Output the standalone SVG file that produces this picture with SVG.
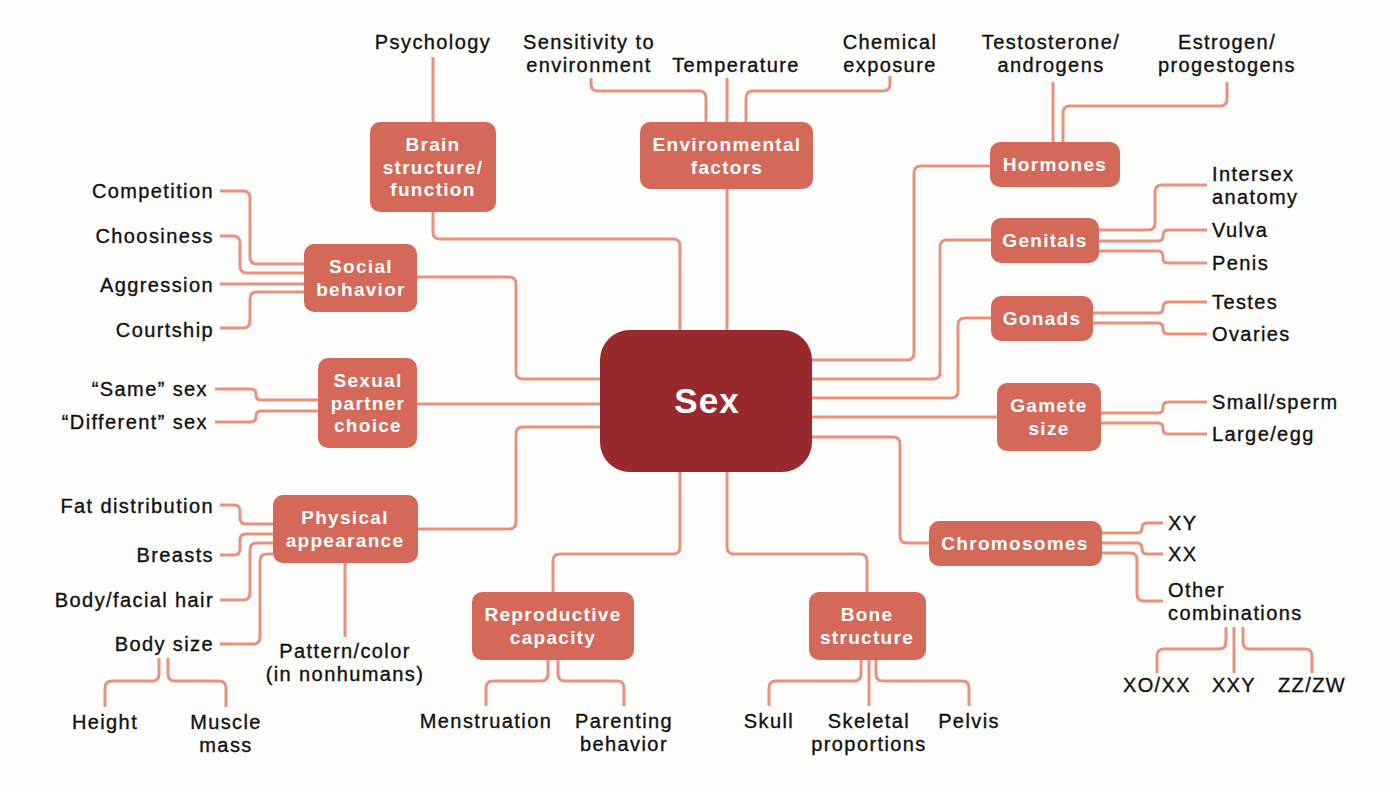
<svg xmlns="http://www.w3.org/2000/svg" width="1396" height="786" viewBox="0 0 1396 786">
<style>
.bg{fill:#fdfdfb}
.node{fill:#d4695a}
.core{fill:#982a2e}
.c path{fill:none;stroke:#e8917f;stroke-width:3;stroke-linecap:butt;stroke-linejoin:round}
.nt{font-family:"Liberation Sans",Arial,sans-serif;font-weight:bold;font-size:19px;letter-spacing:1.3px;fill:#ffffff;text-anchor:middle}
.lt{font-family:"Liberation Sans",Arial,sans-serif;font-size:20px;letter-spacing:1.4px;fill:#111111;stroke:#111111;stroke-width:0.35px}
.m{text-anchor:middle}
.e{text-anchor:end}
.s{text-anchor:start}
</style>
<rect class="bg" x="0" y="0" width="1396" height="786"/>
<g class="c" id="connectors">
<path d="M433,57 V122"/>
<path d="M591,78 V84 Q591,91 598,91 H699 Q706,91 706,98 V122"/>
<path d="M727,78 V122"/>
<path d="M890,76 V84 Q890,91 883,91 H753 Q746,91 746,98 V122"/>
<path d="M1053,82 V142"/>
<path d="M1227,82 V99 Q1227,106 1220,106 H1070 Q1063,106 1063,113 V142"/>
<path d="M433,212 V232 Q433,239 440,239 H673 Q680,239 680,246 V330"/>
<path d="M727,189 V330"/>
<path d="M990,166 H921 Q914,166 914,173 V353 Q914,360 907,360 H812"/>
<path d="M991,240 H947 Q940,240 940,247 V372 Q940,379 933,379 H812"/>
<path d="M991,318 H965 Q958,318 958,325 V391 Q958,398 951,398 H812"/>
<path d="M812,417 H997"/>
<path d="M812,437 H893 Q900,437 900,444 V536 Q900,543 907,543 H929"/>
<path d="M727,472 V547 Q727,554 734,554 H860 Q867,554 867,561 V592"/>
<path d="M680,472 V547 Q680,554 673,554 H560 Q553,554 553,561 V592"/>
<path d="M418,529 H509 Q516,529 516,522 V434 Q516,427 523,427 H600"/>
<path d="M417,404 H600"/>
<path d="M417,277 H509 Q516,277 516,284 V372 Q516,379 523,379 H600"/>
<path d="M220,191 H243 Q250,191 250,198 V257 Q250,264 257,264 H304"/>
<path d="M220,236 H233 Q240,236 240,243 V266 Q240,273 247,273 H304"/>
<path d="M220,284 H304"/>
<path d="M220,328 H243 Q250,328 250,321 V299 Q250,292 257,292 H304"/>
<path d="M215,389 H251 Q256,389 256,394.5 Q256,400 261,400 H318"/>
<path d="M215,422 H251 Q256,422 256,416.5 Q256,411 261,411 H318"/>
<path d="M220,505 H234 Q240,505 240,511 V518 Q240,524 246,524 H273"/>
<path d="M220,555 H234 Q240,555 240,549 V540 Q240,534 246,534 H273"/>
<path d="M220,600 H243 Q250,600 250,593 V550 Q250,543 257,543 H273"/>
<path d="M220,644 H253 Q260,644 260,637 V561 Q260,554 267,554 H273"/>
<path d="M345,563 V637"/>
<path d="M159,658 V674 Q159,681 152,681 H112 Q105,681 105,688 V707"/>
<path d="M168,658 V674 Q168,681 175,681 H219 Q226,681 226,688 V707"/>
<path d="M548,660 V674 Q548,681 541,681 H493 Q486,681 486,688 V706"/>
<path d="M558,660 V674 Q558,681 565,681 H617 Q624,681 624,688 V706"/>
<path d="M861,660 V674 Q861,681 854,681 H776 Q769,681 769,688 V706"/>
<path d="M869,660 V706"/>
<path d="M876,660 V674 Q876,681 883,681 H962 Q969,681 969,688 V706"/>
<path d="M1099,230 H1148 Q1155,230 1155,223 V192 Q1155,185 1162,185 H1207"/>
<path d="M1099,241 H1158 Q1163,241 1163,236 V235 Q1163,230 1168,230 H1207"/>
<path d="M1099,251 H1158 Q1163,251 1163,256 V258 Q1163,263 1168,263 H1207"/>
<path d="M1093,313 H1158 Q1163,313 1163,308 V307 Q1163,302 1168,302 H1207"/>
<path d="M1093,323 H1158 Q1163,323 1163,328 V329 Q1163,334 1168,334 H1207"/>
<path d="M1101,413 H1158 Q1163,413 1163,408 V407 Q1163,402 1168,402 H1207"/>
<path d="M1101,423 H1158 Q1163,423 1163,428 V429 Q1163,434 1168,434 H1207"/>
<path d="M1102,533 H1137 Q1142,533 1142,528 Q1142,523 1147,523 H1163"/>
<path d="M1102,543 H1137 Q1142,543 1142,548 V549 Q1142,554 1147,554 H1163"/>
<path d="M1102,553 H1130 Q1137,553 1137,560 V594 Q1137,601 1144,601 H1163"/>
<path d="M1226,627 V642 Q1226,649 1219,649 H1164 Q1157,649 1157,656 V673"/>
<path d="M1234,627 V673"/>
<path d="M1243,627 V642 Q1243,649 1250,649 H1305 Q1312,649 1312,656 V673"/>
</g>
<g id="sex"><rect class="core" x="600" y="330" width="212" height="142" rx="30"/><text x="707" y="413" font-family="Liberation Sans,Arial,sans-serif" font-weight="bold" font-size="35" letter-spacing="1" fill="#fff" text-anchor="middle">Sex</text></g>
<g id="brain"><rect class="node" x="370" y="122" width="126" height="90" rx="10"/><text class="nt" x="433" y="151">Brain</text><text class="nt" x="433" y="174">structure/</text><text class="nt" x="433" y="196">function</text></g>
<g id="env"><rect class="node" x="640" y="122" width="173" height="67" rx="10"/><text class="nt" x="727" y="151">Environmental</text><text class="nt" x="727" y="174">factors</text></g>
<g id="hormones"><rect class="node" x="990" y="142" width="130" height="45" rx="10"/><text class="nt" x="1055" y="171">Hormones</text></g>
<g id="genitals"><rect class="node" x="991" y="218" width="108" height="45" rx="10"/><text class="nt" x="1045" y="247">Genitals</text></g>
<g id="gonads"><rect class="node" x="991" y="296" width="102" height="45" rx="10"/><text class="nt" x="1042" y="325">Gonads</text></g>
<g id="gamete"><rect class="node" x="997" y="383" width="104" height="68" rx="10"/><text class="nt" x="1049" y="412">Gamete</text><text class="nt" x="1049" y="435">size</text></g>
<g id="chromosomes"><rect class="node" x="929" y="521" width="173" height="45" rx="10"/><text class="nt" x="1015" y="550">Chromosomes</text></g>
<g id="bone"><rect class="node" x="809" y="592" width="117" height="68" rx="10"/><text class="nt" x="867" y="621">Bone</text><text class="nt" x="867" y="644">structure</text></g>
<g id="repro"><rect class="node" x="472" y="592" width="162" height="68" rx="10"/><text class="nt" x="553" y="621">Reproductive</text><text class="nt" x="553" y="644">capacity</text></g>
<g id="physical"><rect class="node" x="273" y="495" width="145" height="68" rx="10"/><text class="nt" x="345" y="524">Physical</text><text class="nt" x="345" y="547">appearance</text></g>
<g id="partner"><rect class="node" x="318" y="358" width="99" height="90" rx="10"/><text class="nt" x="368" y="387">Sexual</text><text class="nt" x="368" y="410">partner</text><text class="nt" x="368" y="432">choice</text></g>
<g id="social"><rect class="node" x="304" y="244" width="113" height="68" rx="10"/><text class="nt" x="361" y="273">Social</text><text class="nt" x="361" y="296">behavior</text></g>
<g id="leaves">
<text class="lt m" x="433" y="49">Psychology</text>
<text class="lt m" x="589" y="49">Sensitivity to</text>
<text class="lt m" x="589" y="72">environment</text>
<text class="lt m" x="736" y="72">Temperature</text>
<text class="lt m" x="890" y="49">Chemical</text>
<text class="lt m" x="890" y="72">exposure</text>
<text class="lt m" x="1051" y="49">Testosterone/</text>
<text class="lt m" x="1051" y="72">androgens</text>
<text class="lt m" x="1227" y="49">Estrogen/</text>
<text class="lt m" x="1227" y="72">progestogens</text>
<text class="lt s" x="1212" y="181">Intersex</text>
<text class="lt s" x="1212" y="204">anatomy</text>
<text class="lt s" x="1212" y="237">Vulva</text>
<text class="lt s" x="1212" y="270">Penis</text>
<text class="lt s" x="1212" y="309">Testes</text>
<text class="lt s" x="1212" y="341">Ovaries</text>
<text class="lt s" x="1212" y="409">Small/sperm</text>
<text class="lt s" x="1212" y="441">Large/egg</text>
<text class="lt s" x="1168" y="530">XY</text>
<text class="lt s" x="1168" y="561">XX</text>
<text class="lt s" x="1168" y="597">Other</text>
<text class="lt s" x="1168" y="620">combinations</text>
<text class="lt m" x="1157" y="692">XO/XX</text>
<text class="lt m" x="1234" y="692">XXY</text>
<text class="lt m" x="1312" y="692">ZZ/ZW</text>
<text class="lt m" x="769" y="728">Skull</text>
<text class="lt m" x="869" y="728">Skeletal</text>
<text class="lt m" x="869" y="751">proportions</text>
<text class="lt m" x="969" y="728">Pelvis</text>
<text class="lt m" x="486" y="728">Menstruation</text>
<text class="lt m" x="624" y="728">Parenting</text>
<text class="lt m" x="624" y="751">behavior</text>
<text class="lt m" x="105" y="729">Height</text>
<text class="lt m" x="226" y="729">Muscle</text>
<text class="lt m" x="226" y="752">mass</text>
<text class="lt m" x="345" y="658">Pattern/color</text>
<text class="lt m" x="345" y="681">(in nonhumans)</text>
<text class="lt e" x="214" y="513">Fat distribution</text>
<text class="lt e" x="214" y="562">Breasts</text>
<text class="lt e" x="214" y="607">Body/facial hair</text>
<text class="lt e" x="214" y="651">Body size</text>
<text class="lt e" x="208" y="396">“Same” sex</text>
<text class="lt e" x="208" y="429">“Different” sex</text>
<text class="lt e" x="214" y="198">Competition</text>
<text class="lt e" x="214" y="243">Choosiness</text>
<text class="lt e" x="214" y="292">Aggression</text>
<text class="lt e" x="214" y="337">Courtship</text>
</g>
</svg>
